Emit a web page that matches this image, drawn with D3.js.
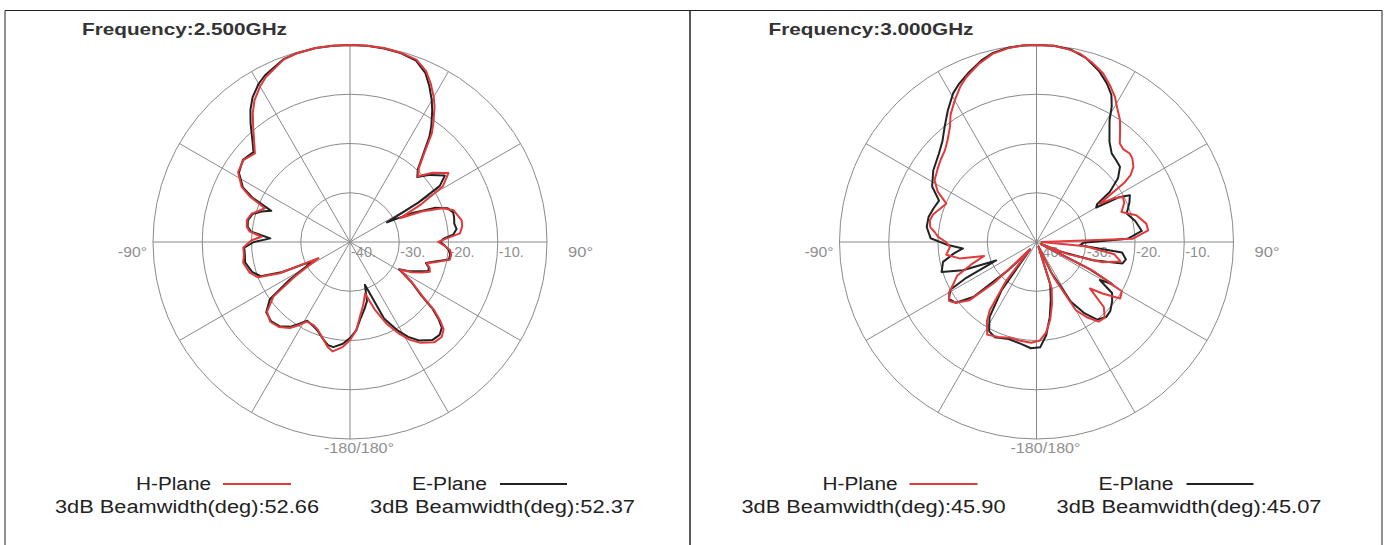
<!DOCTYPE html>
<html>
<head>
<meta charset="utf-8">
<script src="https://cdn.jsdelivr.net/npm/d3@7"></script>
<style>
  body { margin: 0; background: #fff; }
  svg { display: block; }
</style>
</head>
<body>
<div id="chart"></div>
<script>
// pattern values: [angle in degrees, gain in dB]
var hPlane25 = [[0,0],[5,0.1],[10,0],[15,-0.2],[20,-0.6],[24,-2],[27,-3.9],[30,-6],[32,-7.6],[35,-10.5],[37,-12.4],[40,-16.6],[43,-19.5],[46,-20.8],[50,-18.1],[55,-15.6],[59,-18],[62,-23.5],[64.6,-28.8],[67,-24],[70,-20],[73,-18],[76,-17.5],[79,-16.9],[82,-17],[85.5,-17.6],[88,-20.5],[90,-22.1],[92,-21],[94.6,-19.6],[97,-19.3],[100,-19.4],[103,-22],[105.5,-23.8],[108,-23],[110.4,-22.7],[113,-24.2],[116,-26],[119,-28.4],[123,-25],[127,-21.4],[129,-18],[131,-15.8],[133,-14],[136,-13.2],[140,-13.4],[145,-15],[148.5,-16.7],[152,-19],[156,-21.9],[160,-25.5],[163.7,-29.1],[168,-27],[172.4,-24.7],[176,-22],[180,-20.1],[184,-18.6],[189,-17.5],[192,-18.2],[195,-19.4],[200,-21],[204,-21.6],[208.5,-21.6],[212,-20],[215,-18.7],[220,-17.5],[225,-17.1],[230,-18],[234.5,-20.9],[238,-26.8],[243,-32.8],[246,-24.4],[249,-20],[253,-18.7],[259,-17.9],[263,-18.3],[267,-18.3],[271,-20],[273.4,-22],[276,-19.5],[278.4,-18.8],[282,-18.6],[286,-19.2],[289,-20.5],[291.6,-21.4],[294.4,-17.7],[297,-15.3],[302,-13.2],[307.5,-12.7],[313,-13.6],[316,-12],[320,-9.4],[323,-7.2],[326,-5.3],[330,-3.5],[333,-2.4],[340,-0.6],[344,-0.2],[350,0],[355,0.1]];
var ePlane25 = [[0,0],[5,0],[10,-0.1],[15,-0.3],[20,-0.8],[24,-2.4],[27,-4.5],[30,-6.8],[32,-8.5],[35,-11.2],[37,-13.2],[40,-17],[43,-19.8],[46,-21],[50,-18.8],[55,-16.5],[58,-18.5],[60,-24],[62,-31.5],[65,-26],[68,-21.5],[71,-19],[74,-18.2],[77,-18.3],[80,-18.5],[83,-18.2],[86,-19],[88,-21],[90,-21.7],[92,-20.8],[94.6,-19.9],[97,-19.5],[100,-19.6],[103,-22.3],[105.5,-24],[108,-23.2],[110.4,-23],[113,-24.8],[116,-26.4],[119,-28.6],[123,-25.2],[127,-21.8],[129,-18.4],[131,-16.2],[133,-14.5],[136,-13.8],[140,-14],[145,-15.6],[148.5,-17.4],[152,-19.8],[156,-23],[160.8,-30.8],[164,-27.5],[168,-26],[172.4,-24.2],[176,-22],[180,-20.5],[184,-19.3],[189,-18.4],[192,-18.6],[195,-19.4],[200,-20.8],[204,-21.4],[208.5,-21.8],[212,-20.4],[215,-19],[220,-17.7],[225,-17.3],[230,-17.8],[234.5,-20],[238,-25.6],[243,-31.8],[246,-25],[249,-20.6],[253,-19.2],[259,-18.3],[263,-18.5],[267,-18.5],[270,-20.5],[272.6,-23.8],[276,-19.8],[278.4,-19],[282,-18.8],[286,-19.4],[289,-21],[291.6,-22.8],[294.4,-18.3],[297,-15.6],[302,-13.4],[307.5,-12.6],[313,-13.2],[316,-11.5],[320,-8.6],[323,-6.4],[326,-4.6],[330,-2.9],[333,-2],[340,-0.5],[344,-0.2],[350,0],[355,0]];
var hPlane30 = [[0,0],[5,0],[9,-0.3],[13,-0.75],[17,-1.8],[21.6,-3.2],[25,-4.8],[28.4,-6.5],[31,-8.2],[34.4,-10],[37,-11.8],[40.2,-13.8],[43,-14.2],[46.5,-13.9],[49,-14.2],[52.2,-15.1],[54.5,-16.5],[56,-18.5],[58.8,-25],[60.5,-22],[62.5,-20.2],[66,-20.5],[70.6,-21.7],[75,-19],[80.5,-17.4],[84,-17.2],[88,-20.4],[91,-39],[95,-30],[99,-24],[103,-22.5],[107,-26],[111,-33],[114,-39],[117,-27],[120,-20],[124,-19.5],[128,-23],[131,-25.6],[134,-21],[138,-19.3],[142,-19.5],[146,-21.5],[150,-24],[154,-32],[157,-39],[162,-30],[166,-27],[170,-24],[174,-21.5],[178,-20],[183,-19.5],[190,-19.7],[196,-19.8],[202,-19.2],[208,-18.7],[212,-21],[214.4,-23.2],[218,-30],[222,-38],[226,-28],[229,-22],[233,-19.5],[236,-18.6],[240,-19.5],[243,-21],[247,-22.5],[251,-26],[255,-29],[258,-24],[262,-21.5],[266.7,-22.4],[270,-21.6],[273,-20],[275.6,-19.2],[278,-18.2],[281.5,-17.9],[285,-18.3],[289,-19.3],[293.1,-20.1],[297,-17.5],[301.2,-15.8],[307.3,-14.9],[311,-14.3],[315,-13.7],[319,-12.5],[323,-10.8],[326,-8.8],[330,-6.8],[334,-4.8],[337,-3.6],[342,-2],[347,-0.75],[352,-0.2],[356,0]];
var ePlane30 = [[0,0],[5,0],[10,-0.3],[15,-1.3],[20,-3],[24,-4.8],[27,-6.5],[29,-8.5],[31,-11.2],[34,-13.5],[36,-14.8],[40.3,-16.4],[44,-16.8],[48,-17.2],[52,-19],[55.7,-22],[58,-25.5],[60,-26],[61.5,-21],[63.4,-18.8],[67,-19.5],[72.5,-20.8],[78,-19.5],[84,-18.5],[88,-21.5],[91,-30.5],[94.4,-31.2],[97,-22.5],[101,-21.5],[104,-22],[108,-28],[112,-35],[114,-39],[117,-28],[119,-22.5],[121,-25],[124,-21.5],[128,-20.5],[133,-19.5],[137,-19.2],[142,-20],[146,-22.5],[150,-26],[154,-33],[157,-39],[162,-31],[166,-28],[170,-24.5],[174,-21],[178,-18.6],[183,-18.4],[189,-19.1],[196,-19.5],[203.7,-18.9],[208,-19.5],[212,-22],[216,-28],[220,-38],[225,-32],[229,-23],[233,-19.5],[237,-18.8],[241,-20],[243,-24],[245.4,-31],[249,-24],[252.5,-19.8],[258,-20.6],[262,-23],[265,-25],[268,-22],[272,-18.5],[277.8,-17.5],[283,-17.5],[288,-18],[293,-18.5],[298,-16],[304.7,-14.5],[312,-13.3],[317,-12],[321.4,-10.1],[326,-7.8],[330.7,-5.4],[334,-4.2],[338,-3],[343,-1.5],[347,-0.6],[352,-0.1],[356,0]];

var frequencies = ["Frequency:2.500GHz", "Frequency:3.000GHz"];
var beamH = ["52.66", "45.90"];
var beamE = ["52.37", "45.07"];
var ringValues = [-30, -20, -10, 0];
var ringLabels = [[-40, "-40."], [-30, "-30."], [-20, "-20."], [-10, "-10."]];
var spokeAngles = d3.range(0, 360, 30);

var width = 1387,
  height = 545;

var svg = d3.select("#chart")
  .append("svg")
  .attr("width", width)
  .attr("height", height)
  .style("font-family", "'Liberation Sans', Arial, sans-serif");

var r = d3.scaleLinear().domain([-40, 0]).range([0, 197]).clamp(true);

var line = d3.lineRadial()
  .angle(function(d){ return d[0] * Math.PI / 180; })
  .radius(function(d){ return r(d[1]); })
  .curve(d3.curveLinearClosed);

var panels = [
  {x0: 5, x1: 690, cx: 350, h: hPlane25, e: ePlane25},
  {x0: 690, x1: 1382, cx: 1036.5, h: hPlane30, e: ePlane30}
];
var cy = 242;

panels.forEach(function(p, i){
  // frame
  svg.append("path")
    .attr("d", "M" + p.x0 + "," + (height + 5) + "V10.5H" + p.x1 + "V" + (height + 5))
    .attr("fill", "none")
    .attr("stroke", "#222")
    .attr("stroke-width", 1);

  var g = svg.append("g").attr("transform", "translate(" + p.cx + "," + cy + ")");

  // grid
  g.selectAll(".ring")
    .data(ringValues)
    .enter().append("circle")
    .attr("class", "ring")
    .attr("r", function(d){ return r(d); })
    .attr("fill", "none")
    .attr("stroke", "#8a8a8a")
    .attr("stroke-width", 1);

  g.selectAll(".spoke")
    .data(spokeAngles)
    .enter().append("line")
    .attr("class", "spoke")
    .attr("x1", 0).attr("y1", 0)
    .attr("x2", function(d){ return r(0) * Math.sin(d * Math.PI / 180); })
    .attr("y2", function(d){ return -r(0) * Math.cos(d * Math.PI / 180); })
    .attr("stroke", "#8a8a8a")
    .attr("stroke-width", 1);

  // ring labels
  g.selectAll(".rlab")
    .data(ringLabels)
    .enter().append("text")
    .attr("class", "rlab")
    .attr("x", function(d){ return r(d[0]) + 1; })
    .attr("y", 15)
    .attr("fill", "#8f8f8f")
    .style("font-size", "14px")
    .attr("textLength", 25)
    .attr("lengthAdjust", "spacingAndGlyphs")
    .text(function(d){ return d[1]; });

  g.append("text").attr("x", r(0) + 21).attr("y", 15)
    .attr("fill", "#8f8f8f").style("font-size", "14px")
    .attr("textLength", 25).attr("lengthAdjust", "spacingAndGlyphs")
    .text("90°");
  g.append("text").attr("x", -r(0) - 6).attr("y", 15)
    .attr("text-anchor", "end")
    .attr("fill", "#8f8f8f").style("font-size", "14px")
    .attr("textLength", 29).attr("lengthAdjust", "spacingAndGlyphs")
    .text("-90°");
  g.append("text").attr("x", -26).attr("y", 211)
    .attr("fill", "#8f8f8f").style("font-size", "14px")
    .attr("textLength", 70).attr("lengthAdjust", "spacingAndGlyphs")
    .text("-180/180°");

  // patterns
  g.append("path")
    .attr("d", line(p.e))
    .attr("fill", "none")
    .attr("stroke", "#222")
    .attr("stroke-width", 2)
    .attr("stroke-linejoin", "round");
  g.append("path")
    .attr("d", line(p.h))
    .attr("fill", "none")
    .attr("stroke", "#e03a3a")
    .attr("stroke-width", 2)
    .attr("stroke-linejoin", "round");

  // title
  svg.append("text")
    .attr("x", p.cx - 268)
    .attr("y", 35)
    .attr("fill", "#333")
    .style("font-size", "17px")
    .style("font-weight", "bold")
    .attr("textLength", 205)
    .attr("lengthAdjust", "spacingAndGlyphs")
    .text(frequencies[i]);

  // legend
  var lg = svg.append("g").attr("transform", "translate(" + p.cx + ",0)")
    .attr("fill", "#222").style("font-size", "18px");
  lg.append("text").attr("x", -214).attr("y", 490)
    .attr("textLength", 75).attr("lengthAdjust", "spacingAndGlyphs").text("H-Plane");
  lg.append("line").attr("x1", -127).attr("x2", -59).attr("y1", 484).attr("y2", 484)
    .attr("stroke", "#e03a3a").attr("stroke-width", 2);
  lg.append("text").attr("x", 62).attr("y", 490)
    .attr("textLength", 75).attr("lengthAdjust", "spacingAndGlyphs").text("E-Plane");
  lg.append("line").attr("x1", 150).attr("x2", 217).attr("y1", 484).attr("y2", 484)
    .attr("stroke", "#222").attr("stroke-width", 2);
  lg.append("text").attr("x", -295).attr("y", 513)
    .attr("textLength", 264).attr("lengthAdjust", "spacingAndGlyphs")
    .text("3dB Beamwidth(deg):" + beamH[i]);
  lg.append("text").attr("x", 20).attr("y", 513)
    .attr("textLength", 265).attr("lengthAdjust", "spacingAndGlyphs")
    .text("3dB Beamwidth(deg):" + beamE[i]);
});
</script>
</body>
</html>
